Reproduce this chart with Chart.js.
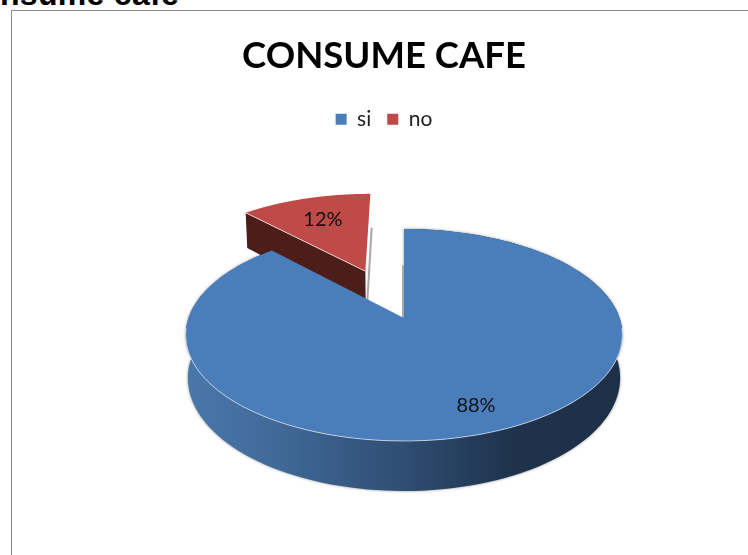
<!DOCTYPE html>
<html>
<head>
<meta charset="utf-8">
<title>CONSUME CAFE</title>
<script src="https://cdn.jsdelivr.net/npm/chart.js@4"></script>
<style>
  html, body { margin: 0; padding: 0; background: #fff; }
  #page { position: relative; width: 748px; height: 555px; overflow: hidden; }
  #heading { position: absolute; left: 0; top: -24px; font: bold 32px "Liberation Sans", sans-serif; letter-spacing: 0.3px; color: #000; }
  #frame { position: absolute; left: 11px; top: 10px; width: 760px; height: 600px; border: 1px solid #8a8a8a; }
  #grafico { position: absolute; left: 0; top: 0; }
</style>
</head>
<body>
<div id="page">
  <div id="heading">nsume cafe</div>
  <div id="frame"></div>
  <canvas id="grafico" width="748" height="555"></canvas>
</div>
<script>
const categorias = ['si', 'no'];
const valores = [88, 12];
const colores = ['#4a7ebb', '#be4b48'];
const coloresCorte = ['#1f3550', '#4d1d1a'];
const separacion = [0, 0.525];
const posEtiqueta = [0.8, 0.68];

// camara del pastel 3D: centro, radios y fuga de la perspectiva
const cx = 404, cy = 318, radioX = 215.5, radioY = 103.3, fuga = 0.16, fondo = 42;

// pasa un punto del disco unidad a la pantalla
function proyectar(u, v, bajar) {
    const k = 1 - fuga * v;
    // la base queda un poco mas estrecha que la tapa
    const ancho = bajar ? 0.99 : 1;
    return {
        x: cx + radioX * ancho * u / k,
        y: cy + radioY * v / k + (bajar ? fondo / k : 0)
    };
}

function puntoArco(arco, i, ang, r, bajar) {
    const medio = (arco.startAngle + arco.endAngle) / 2;
    const u = separacion[i] * Math.cos(medio) + r * Math.cos(ang);
    const v = separacion[i] * Math.sin(medio) + r * Math.sin(ang);
    return proyectar(u, v, bajar);
}

function trazarBorde(ctx, arco, i, bajar, reverso) {
    const pasos = 160;
    for (let p = 0; p <= pasos; p++) {
        const t = reverso ? 1 - p / pasos : p / pasos;
        const ang = arco.startAngle + (arco.endAngle - arco.startAngle) * t;
        const q = puntoArco(arco, i, ang, 1, bajar);
        ctx.lineTo(q.x, q.y);
    }
}

function caraSuperior(ctx, arco, i) {
    const centro = puntoArco(arco, i, 0, 0, false);
    ctx.beginPath();
    ctx.moveTo(centro.x, centro.y);
    trazarBorde(ctx, arco, i, false, false);
    ctx.closePath();
    ctx.fillStyle = colores[i];
    ctx.fill();
}

function paredExterior(ctx, arco, i) {
    const grad = ctx.createLinearGradient(186, 0, 623, 0);
    grad.addColorStop(0, '#4a77aa');
    grad.addColorStop(0.2, '#406a99');
    grad.addColorStop(0.5, '#2f4d72');
    grad.addColorStop(0.75, '#1e324c');
    grad.addColorStop(1, '#1c3048');
    ctx.save();
    ctx.shadowColor = 'rgba(0,0,0,0.45)';
    ctx.shadowBlur = 3;
    ctx.beginPath();
    trazarBorde(ctx, arco, i, false, false);
    trazarBorde(ctx, arco, i, true, true);
    ctx.closePath();
    ctx.fillStyle = grad;
    ctx.fill();
    ctx.restore();
}

// cara del corte que mira hacia delante en la porcion separada
function caraCorte(ctx, arco, i) {
    const a = puntoArco(arco, i, 0, 0, false);
    const b = puntoArco(arco, i, arco.startAngle, 1, false);
    const c = puntoArco(arco, i, arco.startAngle, 1, true);
    const d = puntoArco(arco, i, 0, 0, true);
    ctx.beginPath();
    ctx.moveTo(a.x, a.y);
    ctx.lineTo(b.x, b.y);
    ctx.lineTo(c.x, c.y);
    ctx.lineTo(d.x, d.y);
    ctx.closePath();
    ctx.fillStyle = coloresCorte[i];
    ctx.fill();
}

// filo gris que se ve de canto en el lado del corte vertical
function filoGris(ctx, arco, i, ang) {
    const a = puntoArco(arco, i, ang, 1, true);
    const b = puntoArco(arco, i, 0, 0, i === 0 ? false : true);
    ctx.save();
    ctx.strokeStyle = 'rgba(120,120,120,0.65)';
    ctx.lineWidth = 2;
    ctx.beginPath();
    ctx.moveTo(a.x + (i === 0 ? -1 : 1), a.y);
    ctx.lineTo(b.x + (i === 0 ? -1 : 1), b.y);
    ctx.stroke();
    ctx.restore();
}

const pastel3d = {
    id: 'pastel3d',
    beforeDatasetDraw(chart) {
        const ctx = chart.ctx;
        const arcos = chart.getDatasetMeta(0).data;
        const total = valores.reduce((a, b) => a + b, 0);

        // primero la porcion del fondo
        filoGris(ctx, arcos[1], 1, arcos[1].endAngle);
        caraCorte(ctx, arcos[1], 1);
        caraSuperior(ctx, arcos[1], 1);
        const a1 = puntoArco(arcos[1], 1, 0, 0, false);
        const b1 = puntoArco(arcos[1], 1, arcos[1].startAngle, 1, false);
        ctx.strokeStyle = 'rgba(255,255,255,0.7)';
        ctx.lineWidth = 1;
        ctx.beginPath();
        ctx.moveTo(a1.x, a1.y);
        ctx.lineTo(b1.x, b1.y);
        ctx.stroke();

        filoGris(ctx, arcos[0], 0, arcos[0].startAngle);
        paredExterior(ctx, arcos[0], 0);
        caraSuperior(ctx, arcos[0], 0);

        // brillo del borde delantero
        ctx.strokeStyle = 'rgba(255,255,255,0.6)';
        ctx.lineWidth = 1;
        ctx.beginPath();
        const frente = { startAngle: 0.1, endAngle: Math.PI - 0.1 };
        for (let p = 0; p <= 120; p++) {
            const ang = frente.startAngle + (frente.endAngle - frente.startAngle) * p / 120;
            const q = proyectar(Math.cos(ang), Math.sin(ang), false);
            ctx.lineTo(q.x, q.y);
        }
        ctx.stroke();

        // etiquetas de porcentaje
        ctx.fillStyle = '#111';
        ctx.font = '20px Lato, sans-serif';
        ctx.textAlign = 'center';
        ctx.textBaseline = 'middle';
        arcos.forEach(function(arco, i) {
            const medio = (arco.startAngle + arco.endAngle) / 2;
            const q = puntoArco(arco, i, medio, posEtiqueta[i], false);
            ctx.fillText(Math.round(valores[i] / total * 100) + '%', q.x, q.y);
        });
        return false;
    }
};

new Chart(document.getElementById('grafico').getContext('2d'), {
    type: 'pie',
    data: {
        labels: categorias,
        datasets: [{
            data: valores,
            backgroundColor: colores,
            borderWidth: 0
        }]
    },
    options: {
        responsive: false,
        animation: false,
        layout: { padding: { left: 20 } },
        plugins: {
            tooltip: { enabled: false },
            title: {
                display: true,
                text: 'CONSUME CAFE',
                color: '#000',
                font: { family: 'Lato', size: 36.5, weight: 'bold' },
                padding: { top: 34, bottom: 15 }
            },
            legend: {
                position: 'top',
                labels: {
                    usePointStyle: true,
                    pointStyle: 'rect',
                    boxWidth: 11,
                    boxHeight: 11,
                    padding: 16,
                    color: '#222',
                    font: { family: 'Lato', size: 21 }
                }
            }
        }
    },
    plugins: [pastel3d]
});
</script>
</body>
</html>
